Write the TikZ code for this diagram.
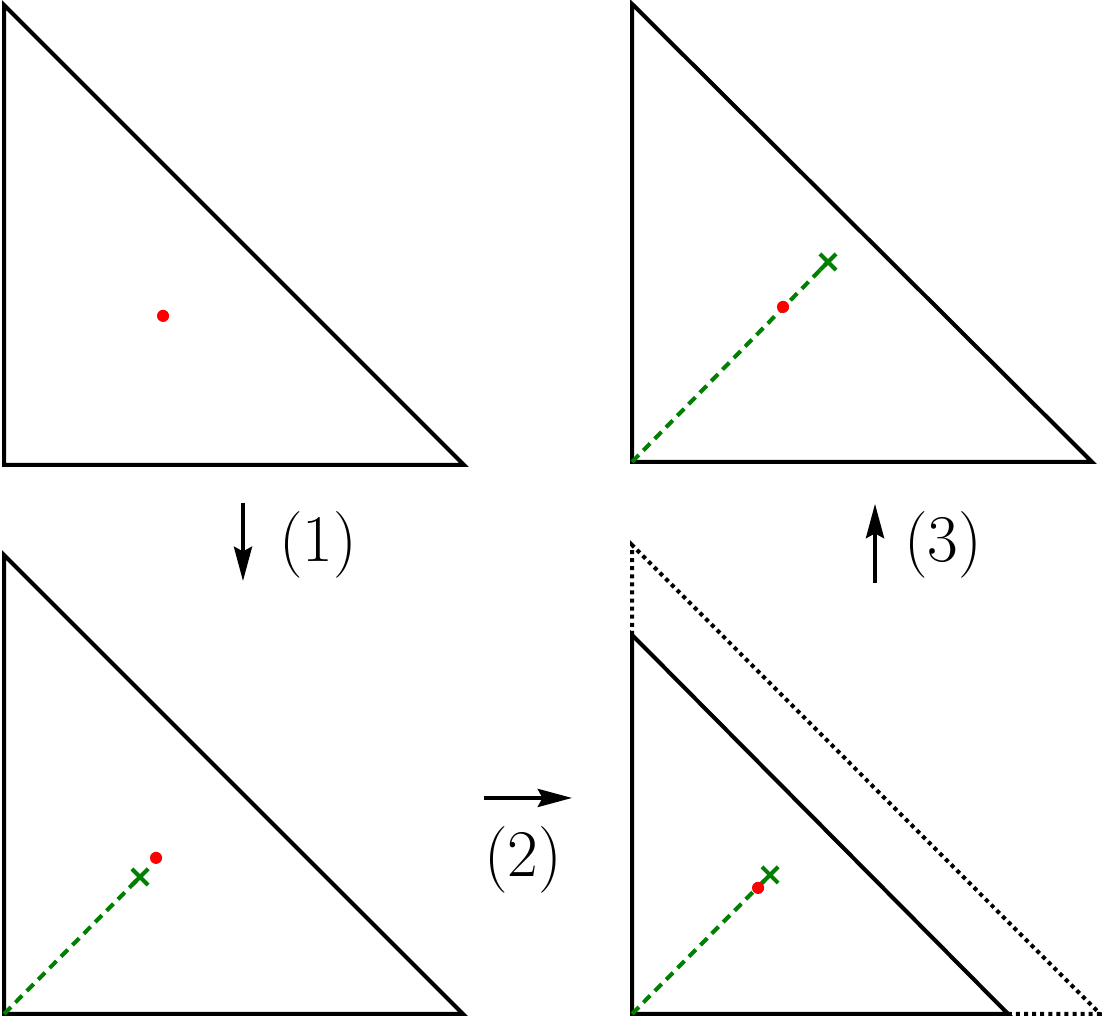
\documentclass[tikz,border=0pt]{standalone}
\usepackage{tikz}
\usetikzlibrary{arrows.meta}
\definecolor{figG}{RGB}{0,128,0}
\definecolor{figR}{RGB}{255,0,0}
\tikzset{
  tri/.style={line width=1pt, black},
  ray/.style={figG, line width=1pt, dash pattern=on 2.4pt off 1.6pt},
  ghost/.style={line width=1pt, dash pattern=on 1pt off 1pt},
  stepArrow/.style={-{Stealth[length=8.5pt, width=4.5pt, inset=1.2pt]}, line width=0.8pt},
  stepLabel/.style={font=\fontsize{16.5}{20}\selectfont, inner sep=0pt}
}
% red point and green cross marker
\newcommand{\pnt}[1]{\fill[figR] #1 circle (1.5pt);}
\newcommand{\crs}[1]{\draw[figG, line width=1pt] #1 ++(-2pt,-2pt) -- ++(4pt,4pt) #1 ++(-2pt,2pt) -- ++(4pt,-4pt);}

\begin{document}
\begin{tikzpicture}
\useasboundingbox (-0.035,-4.809) rectangle (9.548,4.043);
% top left: start
\draw[tri] (0,0) -- (0,4) -- (4,0) -- cycle;
\pnt{(1.383,1.296)}
% bottom left
\begin{scope}[shift={(0,-4.774)}]
\draw[tri] (0,0) -- (0,3.991) -- (3.991,0) -- cycle;
\draw[ray] (0,0) -- (1.183,1.191);
\crs{(1.183,1.191)}
\pnt{(1.322,1.357)}
\end{scope}
% bottom right: shrunk triangle inside the old one
\begin{scope}[shift={(5.461,-4.774)}]
\draw[ghost] (0,3.296) -- (0,4.078) -- (4.07,0) -- (3.27,0);
\draw[tri] (0,0) -- (0,3.296) -- (3.27,0) -- cycle;
\draw[ray] (0,0) -- (1.2,1.209);
\crs{(1.2,1.209)}
\pnt{(1.096,1.096)}
\end{scope}
% top right
\begin{scope}[shift={(5.461,0.026)}]
\draw[tri] (0,0) -- (0,3.983) -- (4,0) -- cycle;
\draw[ray] (0,0) -- (1.704,1.739);
\crs{(1.704,1.739)}
\pnt{(1.313,1.348)}
\end{scope}
% steps
\coordinate (s1a) at (2.078,-0.330);
\coordinate (s1b) at (2.078,-1.009);
\coordinate (s2a) at (4.174,-2.896);
\coordinate (s2b) at (4.939,-2.896);
\coordinate (s3a) at (7.574,-1.026);
\coordinate (s3b) at (7.574,-0.339);
\draw[stepArrow] (s1a) -- (s1b);
\draw[stepArrow] (s2a) -- (s2b);
\draw[stepArrow] (s3a) -- (s3b);
\node[stepLabel] (l1) at (2.73,-0.696) {(1)};
\node[stepLabel] (l2) at (4.513,-3.435) {(2)};
\node[stepLabel] (l3) at (8.165,-0.696) {(3)};
\end{tikzpicture}
\end{document}
